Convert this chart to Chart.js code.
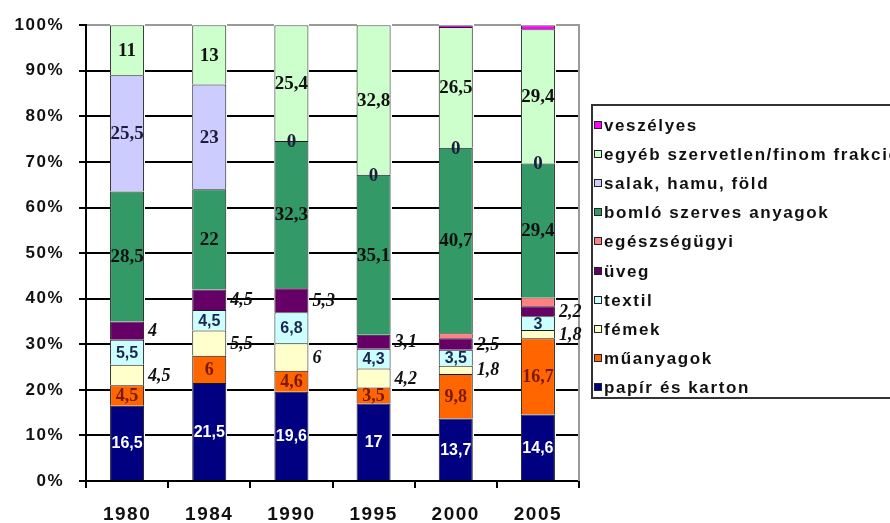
<!DOCTYPE html>
<html>
<head>
<meta charset="utf-8">
<script src="https://cdn.jsdelivr.net/npm/chart.js@4/dist/chart.umd.min.js"></script>
<style>
html,body{margin:0;padding:0;background:#fff;overflow:hidden;}
#wrap{width:890px;height:523px;position:relative;}
</style>
</head>
<body>
<div id="wrap"><canvas id="c" width="890" height="523"></canvas></div>
<script>
// ---- data ----
const years = ['1980', '1984', '1990', '1995', '2000', '2005'];
const papir      = [16.5, 21.5, 19.6, 17, 13.7, 14.6];
const muanyag    = [4.5, 6, 4.6, 3.5, 9.8, 16.7];
const femek      = [4.5, 5.5, 6, 4.2, 1.8, 1.8];
const textil     = [5.5, 4.5, 6.8, 4.3, 3.5, 3];
const uveg       = [4, 4.5, 5.3, 3.1, 2.5, 2.2];
const egeszseg   = [0, 0, 0, 0, 1.1, 1.9];
const bomlo      = [28.5, 22, 32.3, 35.1, 40.7, 29.4];
const salak      = [25.5, 23, 0, 0, 0, 0];
const egyeb      = [11, 13, 25.4, 32.8, 26.5, 29.4];
const veszelyes  = [0, 0, 0, 0, 0.4, 0.9];
const seriesNames = ['papír és karton', 'műanyagok', 'fémek', 'textil', 'üveg', 'egészségügyi',
  'bomló szerves anyagok', 'salak, hamu, föld', 'egyéb szervetlen/finom frakció', 'veszélyes'];
const seriesValues = [papir, muanyag, femek, textil, uveg, egeszseg, bomlo, salak, egyeb, veszelyes];

// ---- styles ----
const colors = ['#000080', '#FF6600', '#FFFFCC', '#CCFFFF', '#660066', '#FF8080',
  '#339966', '#CCCCFF', '#CCFFCC', '#FF00FF'];
const SANS = '"Liberation Sans", Arial, sans-serif';
const SERIF = '"Liberation Serif", "Times New Roman", serif';
const labelStyle = [
  {mode: 'in',  color: '#ffffff', font: 'bold 16px ' + SANS},
  {mode: 'in',  color: '#7a1800', font: 'bold 18px ' + SERIF},
  {mode: 'out', color: '#111111', font: 'italic bold 18px ' + SERIF},
  {mode: 'in',  color: '#1a2850', font: 'bold 16px ' + SANS},
  {mode: 'out', color: '#111111', font: 'italic bold 18px ' + SERIF},
  {mode: 'none'},
  {mode: 'in',  color: '#111111', font: 'bold 19px ' + SERIF},
  {mode: 'in',  color: '#1c1c3c', font: 'bold 19px ' + SERIF},
  {mode: 'in',  color: '#111111', font: 'bold 19px ' + SERIF},
  {mode: 'none'}
];

// 100% stacking
const totals = years.map((_, j) => seriesValues.reduce((s, arr) => s + arr[j], 0));
const datasets = seriesValues.map((arr, i) => ({
  label: seriesNames[i],
  data: arr.map((v, j) => v / totals[j] * 100),
  raw: arr,
  backgroundColor: colors[i],
  borderColor: '#1a1a1a',
  borderWidth: 1,
  barPercentage: 0.414,
  categoryPercentage: 1.0
}));

const fmt = v => String(v).replace('.', ',');

const spacingPlugin = {
  id: 'spacing',
  beforeDraw(chart) { chart.ctx.letterSpacing = '1.5px'; }
};

// gridlines at the y scale's ticks, drawn in the gaps between the (full-height) bars,
// the grey plot frame, then the value labels
const labelPlugin = {
  id: 'valueLabels',
  afterDatasetsDraw(chart) {
    const ctx = chart.ctx;
    const a = chart.chartArea;
    const ys = chart.scales.y;
    const bars = chart.getDatasetMeta(0).data;
    const L = Math.round(a.left), R = Math.round(a.right);
    const gaps = [];
    let prev = L + 1;
    bars.forEach(el => {
      const l = Math.round(el.x - el.width / 2);
      gaps.push([prev, l]);
      prev = Math.round(el.x + el.width / 2) + 1;
    });
    gaps.push([prev, R]);
    ctx.save();
    ctx.letterSpacing = '0px';
    ys.ticks.forEach(t => {
      if (t.value === 0) return;
      const y = Math.round(ys.getPixelForValue(t.value));
      ctx.fillStyle = t.value === 100 ? '#9a9a9a' : '#000000';
      gaps.forEach(g => ctx.fillRect(g[0], y - 1, g[1] - g[0], 2));
    });
    ctx.fillStyle = '#9a9a9a';
    ctx.fillRect(R - 1, Math.round(a.top) - 1, 2, Math.round(a.bottom - a.top) + 1);

    chart.data.datasets.forEach((ds, i) => {
      const st = labelStyle[i];
      if (st.mode === 'none') return;
      const meta = chart.getDatasetMeta(i);
      meta.data.forEach((el, j) => {
        const v = ds.raw[j];
        const cy = (el.y + el.base) / 2;
        ctx.font = st.font;
        ctx.fillStyle = st.color;
        ctx.textBaseline = 'middle';
        if (st.mode === 'in') {
          ctx.textAlign = 'center';
          ctx.fillText(fmt(v), el.x, cy + 1);
        } else {
          ctx.textAlign = 'left';
          ctx.fillText(fmt(v), el.x + el.width / 2 + 4, cy + 1);
        }
      });
    });
    ctx.restore();
  }
};

const legendPlugin = {
  id: 'boxLegend',
  afterDraw(chart) {
    const ctx = chart.ctx;
    const dsets = chart.data.datasets;
    ctx.save();
    ctx.letterSpacing = '0px';
    ctx.fillStyle = '#333333';
    ctx.fillRect(591, 104, 300, 2);
    ctx.fillRect(591, 397, 300, 2);
    ctx.fillRect(591, 104, 2, 295);
    ctx.font = 'bold 17px ' + SANS;
    ctx.letterSpacing = '1.6px';
    ctx.textBaseline = 'middle';
    ctx.textAlign = 'left';
    for (let k = 0; k < dsets.length; k++) {
      const ds = dsets[dsets.length - 1 - k];
      const y = Math.round(125 + 29.1 * k);
      ctx.fillStyle = ds.backgroundColor;
      ctx.fillRect(594, y - 4, 8, 8);
      ctx.strokeStyle = '#222222';
      ctx.lineWidth = 1;
      ctx.strokeRect(594.5, y - 3.5, 7, 7);
      ctx.fillStyle = '#111111';
      ctx.fillText(ds.label, 604, y + 1);
    }
    ctx.restore();
  }
};

new Chart(document.getElementById('c'), {
  type: 'bar',
  data: {labels: years, datasets},
  plugins: [spacingPlugin, labelPlugin, legendPlugin],
  options: {
    responsive: false,
    animation: false,
    layout: {padding: {top: 25, right: 311, left: 0, bottom: 0}},
    plugins: {legend: {display: false}, tooltip: {enabled: false}},
    scales: {
      x: {
        stacked: true,
        afterFit(s) { s.height = 42; },
        grid: {offset: true, drawOnChartArea: false, drawTicks: true, tickLength: 7, color: '#000000', lineWidth: 2},
        border: {display: true, color: '#000000', width: 2},
        ticks: {color: '#111111', font: {family: SANS, size: 19, weight: 'bold'}, padding: 15, maxRotation: 0}
      },
      y: {
        stacked: true,
        min: 0, max: 100,
        afterFit(s) { s.width = 86; },
        grid: {drawOnChartArea: false, color: '#000000', tickColor: '#000000', tickLength: 7, lineWidth: 2},
        border: {display: true, color: '#000000', width: 2},
        ticks: {stepSize: 10, color: '#111111', font: {family: SANS, size: 17, weight: 'bold'}, padding: 15,
          callback: v => v + '%'}
      }
    }
  }
});
</script>
</body>
</html>
